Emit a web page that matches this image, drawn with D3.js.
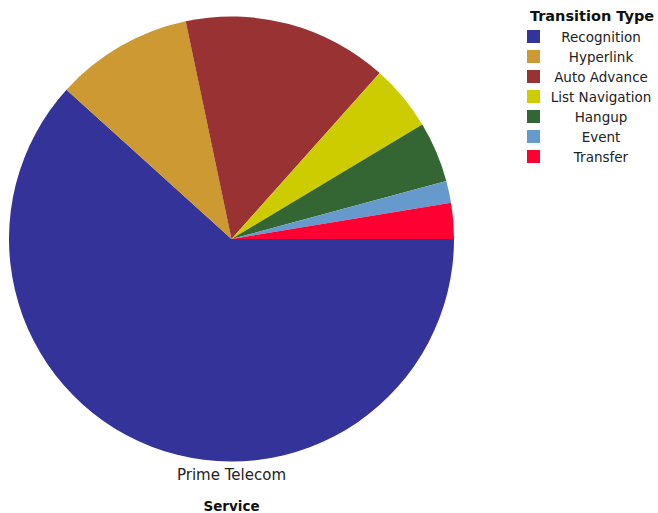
<!DOCTYPE html>
<html>
<head>
<meta charset="utf-8">
<script src="https://cdn.jsdelivr.net/npm/d3@7"></script>
<style>
  html, body { margin: 0; padding: 0; background: #fff; }
  svg { display: block; font-family: "DejaVu Sans", Verdana, sans-serif; }
</style>
</head>
<body>
<svg id="chart" width="658" height="513"></svg>
<script>
// Share of transitions (%) by type for the service
const categories = ["Recognition", "Hyperlink", "Auto Advance", "List Navigation", "Hangup", "Event", "Transfer"];
const values = [61.7, 10.0, 14.9, 4.8, 4.4, 1.6, 2.6];
const colors = ["#333399", "#cc9933", "#993333", "#cccc00", "#336633", "#6699cc", "#ff0033"];
const serviceName = "Prime Telecom";
const axisTitle = "Service";
const legendTitle = "Transition Type";

const svg = d3.select("#chart");
const cx = 231.5, cy = 239, radius = 222.5;

const color = d3.scaleOrdinal().domain(categories).range(colors);

const data = categories.map((c, i) => ({ name: c, value: values[i] }));

// Slices run clockwise starting at 3 o'clock
const pie = d3.pie()
  .value(d => d.value)
  .sort(null)
  .startAngle(Math.PI / 2)
  .endAngle(Math.PI / 2 + 2 * Math.PI);

const arc = d3.arc().innerRadius(0).outerRadius(radius);

svg.append("g")
  .attr("transform", `translate(${cx},${cy})`)
  .selectAll("path")
  .data(pie(data))
  .join("path")
  .attr("d", arc)
  .attr("fill", d => color(d.data.name));

svg.append("text")
  .attr("x", cx).attr("y", 480)
  .attr("text-anchor", "middle")
  .attr("font-size", 15)
  .attr("fill", "#222")
  .text(serviceName);

svg.append("text")
  .attr("x", cx).attr("y", 511)
  .attr("text-anchor", "middle")
  .attr("font-size", 13.5)
  .attr("font-weight", "bold")
  .attr("fill", "#111")
  .text(axisTitle);

// Legend
const legend = svg.append("g");
legend.append("text")
  .attr("x", 592).attr("y", 21)
  .attr("text-anchor", "middle")
  .attr("font-size", 14.5)
  .attr("font-weight", "bold")
  .attr("fill", "#111")
  .text(legendTitle);

const rows = legend.selectAll("g.row")
  .data(categories)
  .join("g")
  .attr("class", "row")
  .attr("transform", (d, i) => `translate(0,${30 + i * 20})`);

rows.append("rect")
  .attr("x", 527).attr("y", 0)
  .attr("width", 13).attr("height", 13)
  .attr("fill", d => color(d));

rows.append("text")
  .attr("x", 601).attr("y", 12)
  .attr("text-anchor", "middle")
  .attr("font-size", 13.5)
  .attr("fill", "#222")
  .text(d => d);
</script>
</body>
</html>
